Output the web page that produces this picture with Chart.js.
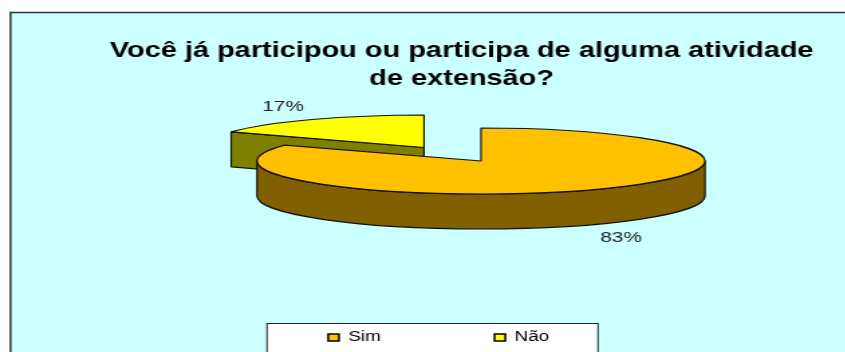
<!DOCTYPE html>
<html>
<head>
<meta charset="utf-8">
<script src="https://cdn.jsdelivr.net/npm/chart.js@4"></script>
<style>
  html, body { margin: 0; background: #fff; overflow: hidden; width: 845px; height: 352px; }
  /* the reference is a picture stretched sideways, so the canvas is too */
  #chart { position: absolute; left: 0; top: 0; transform: scaleX(1.34); transform-origin: 0 0; }
</style>
</head>
<body>
<canvas id="chart" width="631" height="352"></canvas>
<script>
const categories = ["Sim", "Não"];
const values = [83, 17];
const titleLines = ["Você já participou ou participa de alguma atividade", "de extensão?"];

const topColors = ["#FFC000", "#FFFF00"];
const sideColors = ["#806000", "#808000"];
const k = 1.34; // same as the css stretch
const depth = 35;
// ellipse of each slice in page pixels
const ellipses = [
  { cx: 481, cy: 161, rx: 224, ry: 33 },
  { cx: 424, cy: 147.5, rx: 220, ry: 32.5 }
];
const labelSpots = [{ x: 621, y: 238 }, { x: 283, y: 107 }];
const lineColor = "#111";

function ellipseOf(i) {
  const e = ellipses[i];
  return { cx: e.cx / k, cy: e.cy, rx: e.rx / k, ry: e.ry };
}

function pointAt(e, a, dz) {
  return [e.cx + e.rx * Math.cos(a), e.cy + e.ry * Math.sin(a) + dz];
}

// flat slice drawn by the library, squashed onto its ellipse
function drawTop(ctx, arc, e) {
  ctx.save();
  ctx.translate(e.cx, e.cy);
  ctx.scale(e.rx / arc.outerRadius, e.ry / arc.outerRadius);
  ctx.translate(-arc.x, -arc.y);
  arc.draw(ctx);
  ctx.restore();
  ctx.beginPath();
  ctx.moveTo(e.cx, e.cy);
  ctx.ellipse(e.cx, e.cy, e.rx, e.ry, 0, arc.startAngle, arc.endAngle);
  ctx.closePath();
  ctx.stroke();
}

function drawRim(ctx, arc, e, color) {
  const from = Math.max(arc.startAngle, 0);
  const to = Math.min(arc.endAngle, Math.PI);
  if (to <= from) return;
  ctx.fillStyle = color;
  ctx.beginPath();
  ctx.ellipse(e.cx, e.cy, e.rx, e.ry, 0, from, to);
  ctx.ellipse(e.cx, e.cy + depth, e.rx, e.ry, 0, to, from, true);
  ctx.closePath();
  ctx.fill();
  ctx.stroke();
}

function drawCut(ctx, e, a, color) {
  const p = pointAt(e, a, 0);
  const q = pointAt(e, a, depth);
  ctx.fillStyle = color;
  ctx.beginPath();
  ctx.moveTo(p[0], p[1]);
  ctx.lineTo(e.cx, e.cy);
  ctx.lineTo(e.cx, e.cy + depth);
  ctx.lineTo(q[0], q[1]);
  ctx.closePath();
  ctx.fill();
  ctx.stroke();
}

const backdrop = {
  id: "backdrop",
  beforeDraw(chart) {
    const ctx = chart.ctx;
    ctx.save();
    ctx.fillStyle = "#CCFFFF";
    ctx.strokeStyle = "#333";
    ctx.lineWidth = 1.5;
    ctx.fillRect(10.5 / k, 12.5, chart.width, chart.height);
    ctx.strokeRect(10.5 / k, 12.5, chart.width + 20, chart.height + 20);
    // legend box
    ctx.fillStyle = "#fff";
    ctx.lineWidth = 1;
    ctx.strokeStyle = "#222";
    ctx.fillRect(267 / k, 323.5, 331 / k, 60);
    ctx.strokeRect(267 / k, 323.5, 331 / k, 60);
    ctx.restore();
  },
  afterLayout(chart) {
    const lg = chart.legend;
    const pad = lg.options.labels.padding;
    lg.top = 330.5 - pad;
    lg.bottom = lg.top + 16 + 2 * pad;
    lg.left -= 23 / k;
    lg.right -= 23 / k;
  }
};

const pie3d = {
  id: "pie3d",
  beforeDatasetsDraw(chart) {
    const ctx = chart.ctx;
    const arcs = chart.getDatasetMeta(0).data;
    ctx.save();
    ctx.lineWidth = 1.2;
    ctx.strokeStyle = lineColor;
    ctx.lineJoin = "round";
    // slice at the back first
    const no = ellipseOf(1);
    drawCut(ctx, no, arcs[1].startAngle, sideColors[1]);
    drawTop(ctx, arcs[1], no);
    const yes = ellipseOf(0);
    drawRim(ctx, arcs[0], yes, sideColors[0]);
    drawTop(ctx, arcs[0], yes);
    // percent labels
    ctx.fillStyle = "#222";
    ctx.font = "15.5px 'Liberation Sans'";
    ctx.textAlign = "center";
    ctx.textBaseline = "middle";
    values.forEach((v, i) => ctx.fillText(v + "%", labelSpots[i].x / k, labelSpots[i].y));
    ctx.restore();
    return false;
  }
};

new Chart(document.getElementById("chart"), {
  type: "pie",
  data: {
    labels: categories,
    datasets: [{ data: values, backgroundColor: topColors, borderWidth: 0 }]
  },
  options: {
    responsive: false,
    animation: false,
    layout: { padding: { left: 58 } },
    plugins: {
      title: {
        display: true,
        text: titleLines,
        color: "#000",
        font: { family: "'Liberation Sans'", size: 21.6, weight: "bold", lineHeight: 1.3 },
        padding: { top: 37, bottom: 4 }
      },
      legend: {
        position: "bottom",
        labels: {
          color: "#111",
          font: { family: "'Liberation Sans'", size: 14 },
          boxWidth: 8,
          boxHeight: 7,
          padding: 85,
          generateLabels: () => categories.map((c, i) => ({
            text: c, fillStyle: topColors[i], strokeStyle: "#000", lineWidth: 1.5, index: i
          }))
        }
      },
      tooltip: { enabled: false }
    }
  },
  plugins: [backdrop, pie3d]
});
</script>
</body>
</html>
